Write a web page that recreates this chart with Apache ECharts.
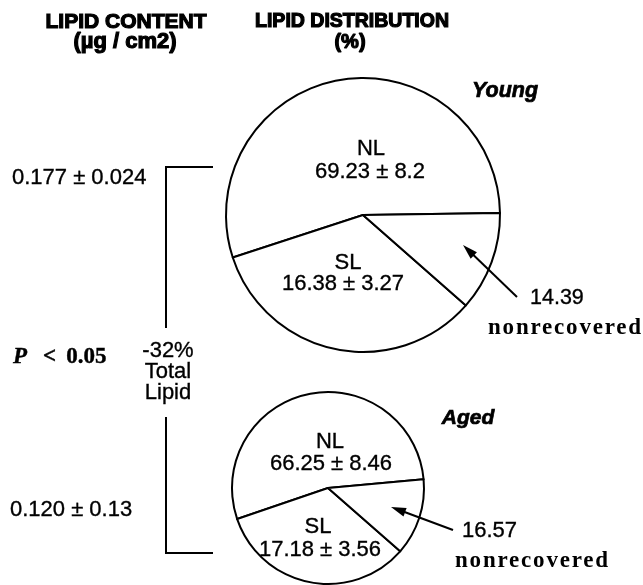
<!DOCTYPE html>
<html>
<head>
<meta charset="utf-8">
<script src="https://cdn.jsdelivr.net/npm/echarts@6/dist/echarts.min.js"></script>
<style>html,body{margin:0;padding:0;background:#fff;}#c{width:643px;height:585px;}</style>
</head>
<body>
<div id="c"></div>
<script>
// ---- data ----
const groups = ['Young', 'Aged'];
const sliceNames = ['NL', 'SL', 'nonrecovered'];
// slice shares as drawn in the picture (angles, in %)
const youngShares = [54.8, 33.5, 11.7];
const agedShares = [53.8, 33.3, 12.9];
// printed labels
const youngLabels = ['69.23 \u00b1 8.2', '16.38 \u00b1 3.27', '14.39'];
const agedLabels = ['66.25 \u00b1 8.46', '17.18 \u00b1 3.56', '16.57'];
const lipidContent = ['0.177 \u00b1 0.024', '0.120 \u00b1 0.13'];
const changeLines = ['-32%', 'Total', 'Lipid'];
const headers = [['LIPID CONTENT', '(\u00b5g / cm2)'], ['LIPID DISTRIBUTION', '(%)']];

// letter spacing for the spaced serif word
function hook(name) {
  const orig = CanvasRenderingContext2D.prototype[name];
  CanvasRenderingContext2D.prototype[name] = function (t) {
    const has = 'letterSpacing' in this;
    const want = (t === 'nonrecovered') ? '1.8px' : '0px';
    if (has && this.letterSpacing !== want) {
      const f = this.font;
      this.letterSpacing = want;
      this.font = f;
    }
    const r = orig.apply(this, arguments);
    if (has && want !== '0px') {
      const f = this.font;
      this.letterSpacing = '0px';
      this.font = f;
    }
    return r;
  };
}
hook('fillText');
hook('strokeText');

const chart = echarts.init(document.getElementById('c'), null, {renderer: 'canvas', width: 643, height: 585});

const SANS = '"Liberation Sans", Arial, Helvetica, sans-serif';
const SERIF = '"Liberation Serif", "Times New Roman", serif';

function pie(center, radius, startAngle, shares) {
  return {
    type: 'pie', center: center, radius: radius, startAngle: startAngle, clockwise: false,
    silent: true, animation: false, z: 1,
    label: {show: false}, labelLine: {show: false},
    itemStyle: {color: '#fff', borderColor: '#000', borderWidth: 2},
    emphasis: {disabled: true},
    data: sliceNames.map((n, i) => ({name: n, value: shares[i]}))
  };
}

function txt(x, y, text, size, opt) {
  opt = opt || {};
  return {
    type: 'text', x: x, y: y, silent: true, z: 100,
    style: Object.assign({
      text: text, fill: '#000', fontSize: size, fontFamily: SANS,
      fontWeight: 'normal', align: 'center', verticalAlign: 'middle',
      stroke: '#000', lineWidth: 0.35
    }, opt)
  };
}

function arrow(tail, tip) {
  const dx = tip[0] - tail[0], dy = tip[1] - tail[1];
  const L = Math.sqrt(dx * dx + dy * dy), ux = dx / L, uy = dy / L;
  const hl = 15, hw = 4.5;
  const bx = tip[0] - ux * hl, by = tip[1] - uy * hl;
  return [
    {type: 'line', silent: true, z: 100, shape: {x1: tail[0], y1: tail[1], x2: bx + ux * 2, y2: by + uy * 2},
      style: {stroke: '#000', lineWidth: 2}},
    {type: 'polygon', silent: true, z: 100,
      shape: {points: [[tip[0], tip[1]], [bx - uy * hw, by + ux * hw], [bx + uy * hw, by - ux * hw]]},
      style: {fill: '#000'}}
  ];
}

const heavy = {fontWeight: 'bold', stroke: '#000', lineWidth: 1.2};
const nonrec = {align: 'left', fontFamily: SERIF, fontWeight: 'bold', lineWidth: 0};
const graphics = [];
// headers
graphics.push(txt(126, 22, headers[0][0], 21, heavy));
graphics.push(txt(125, 42, headers[0][1], 22, heavy));
graphics.push(txt(352, 22, headers[1][0], 19.5, heavy));
graphics.push(txt(350, 42, headers[1][1], 20, heavy));
// group titles
const ttl = {fontWeight: 'bold', fontStyle: 'italic', stroke: '#000', lineWidth: 0.7};
graphics.push(txt(505, 91, groups[0], 21.5, ttl));
graphics.push(txt(468, 418, groups[1], 21, ttl));
// young slice labels
graphics.push(txt(371, 149, sliceNames[0], 22));
graphics.push(txt(370, 172, youngLabels[0], 22));
graphics.push(txt(348, 263, sliceNames[1], 22));
graphics.push(txt(343, 284, youngLabels[1], 22));
graphics.push(txt(530, 298, youngLabels[2], 21.5, {align: 'left'}));
graphics.push(txt(488, 328, sliceNames[2], 23, nonrec));
// aged slice labels
graphics.push(txt(330, 442, sliceNames[0], 22));
graphics.push(txt(331, 464, agedLabels[0], 22));
graphics.push(txt(318, 527, sliceNames[1], 22));
graphics.push(txt(320, 550, agedLabels[1], 22));
graphics.push(txt(462, 531, agedLabels[2], 22, {align: 'left'}));
graphics.push(txt(455, 561, sliceNames[2], 23, nonrec));
// arrows
graphics.push(...arrow([517, 297], [463, 245]));
graphics.push(...arrow([453, 530], [391, 507]));
// left column
graphics.push(txt(12, 178, lipidContent[0], 22, {align: 'left'}));
graphics.push(txt(10, 510, lipidContent[1], 22, {align: 'left'}));
graphics.push(txt(168, 372, changeLines.join('\n'), 22, {lineHeight: 21}));
graphics.push({
  type: 'text', x: 13, y: 357, silent: true, z: 100,
  style: {
    text: '{i|P}{g| }{b|<}{g2| }{b|0.05}', align: 'left', verticalAlign: 'middle', fill: '#000',
    fontFamily: SERIF, fontSize: 23, fontWeight: 'bold', stroke: '#000', lineWidth: 0.4,
    rich: {
      i: {fontFamily: SERIF, fontSize: 23, fontWeight: 'bold', fontStyle: 'italic', fill: '#000', stroke: '#000', lineWidth: 0.4},
      b: {fontFamily: SERIF, fontSize: 23, fontWeight: 'bold', fill: '#000', stroke: '#000', lineWidth: 0.4},
      g: {width: 16, fontSize: 23},
      g2: {width: 10, fontSize: 23}
    }
  }
});
// bracket
graphics.push({type: 'polyline', silent: true, z: 100, shape: {points: [[213, 167], [166, 167], [166, 328]]},
  style: {stroke: '#000', lineWidth: 2, fill: null}});
graphics.push({type: 'polyline', silent: true, z: 100, shape: {points: [[166, 417], [166, 553], [213, 553]]},
  style: {stroke: '#000', lineWidth: 2, fill: null}});

chart.setOption({
  animation: false,
  backgroundColor: '#fff',
  series: [
    pie([363, 215], 137, 0.8, youngShares),
    pie([328, 488], 96, 5.2, agedShares)
  ],
  graphic: graphics
});
</script>
</body>
</html>
